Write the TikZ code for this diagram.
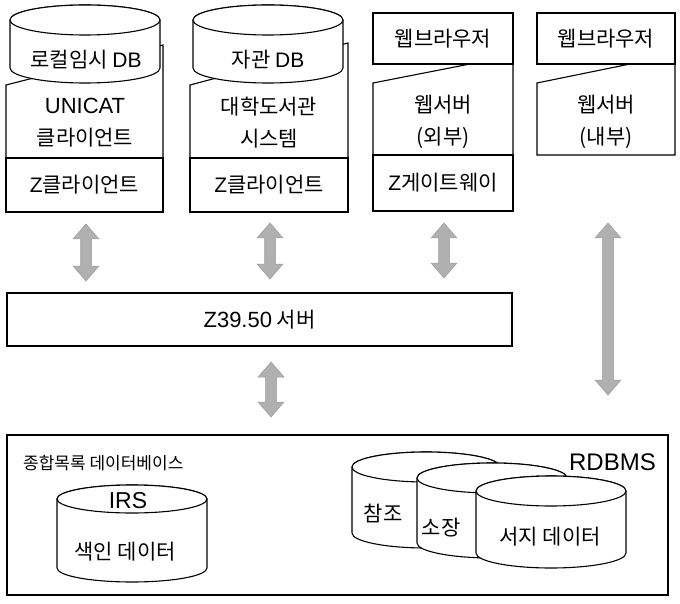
\documentclass[tikz,border=0pt]{standalone}
\usepackage{fontspec}
\setmainfont{Noto Sans CJK KR}
\newfontfamily\latinfont{Liberation Sans}
\usetikzlibrary{calc}
\newcommand\dblarrow[2]{%
  \fill[arrowfill] let \p1=(#1), \p2=(#2) in
  (\x1,\y1) -- (\x1+13pt,\y1-15pt) -- (\x1+5.5pt,\y1-15pt) -- (\x1+5.5pt,\y2+15pt)
  -- (\x1+13pt,\y2+15pt) -- (\x1,\y2) -- (\x1-13pt,\y2+15pt) -- (\x1-5.5pt,\y2+15pt)
  -- (\x1-5.5pt,\y1-15pt) -- (\x1-13pt,\y1-15pt) -- cycle;}
% cylinder: cx, top cy, bottom cy, rx, ry
\newcommand\cylshape[5]{%
  \filldraw[shp] (#1-#4,#2) -- (#1-#4,#3)
    arc[start angle=180,end angle=360,x radius=#4pt,y radius=#5pt]
    -- (#1+#4,#2)
    arc[start angle=0,end angle=180,x radius=#4pt,y radius=#5pt] -- cycle;
  \draw[shp] (#1,#2) ellipse[x radius=#4pt,y radius=#5pt];}
\newcommand\lt[1]{{\latinfont #1}}
\begin{document}
\begin{tikzpicture}[x=1pt,y=-1pt,
  shp/.style={draw=black, fill=white, line width=1.1pt, line join=miter},
  lbl/.style={font=\fontsize{21}{32}\selectfont, inner sep=0pt, align=center},
  smalllbl/.style={font=\fontsize{17}{20}\selectfont, inner sep=0pt},
  arrowfill/.style={fill=gray!62, draw=gray!78, line width=0.5pt}]
\useasboundingbox (0,0) rectangle (680,604);

% ---------- Box 1: UNICAT ----------
\filldraw[shp] (6,85) -- (163,45) -- (163,158) -- (6,158) -- cycle;
\cylshape{85}{20}{68}{75}{15}
\node[lbl] (ldb) at (86,60) {로컬임시 \lt{DB}};
\node[lbl] (uni) at (85,123) {\lt{\fontsize{22}{32}\selectfont UNICAT}\\클라이언트};
\node[shp, lbl, minimum width=157pt, minimum height=54pt] (zc1) at (84.5,185) {\lt{Z}클라이언트};

% ---------- Box 2: 대학도서관 ----------
\filldraw[shp] (190,85) -- (348,43) -- (348,158) -- (190,158) -- cycle;
\cylshape{268}{20}{68}{75}{15}
\node[lbl] (jdb) at (268,60) {자관 \lt{DB}};
\node[lbl] (lib) at (269,123) {대학도서관\\시스템};
\node[shp, lbl, minimum width=158pt, minimum height=54pt] (zc2) at (269,185) {\lt{Z}클라이언트};

% ---------- Box 3: 웹서버 (외부) ----------
\filldraw[shp] (373,83) -- (470,64) -- (513,64) -- (513,155) -- (373,155) -- cycle;
\node[shp, lbl, minimum width=140pt, minimum height=51pt] (wb1) at (443,38.5) {웹브라우저};
\node[lbl] (ws1) at (443,122) {웹서버\\(외부)};
\node[shp, lbl, minimum width=140pt, minimum height=56pt] (zg) at (443,183) {\lt{Z}게이트웨이};

% ---------- Box 4: 웹서버 (내부) ----------
\filldraw[shp] (537,83) -- (630,64) -- (675,64) -- (675,155) -- (537,155) -- cycle;
\node[shp, lbl, minimum width=138pt, minimum height=51pt] (wb2) at (606,38.5) {웹브라우저};
\node[lbl] (ws2) at (606,122) {웹서버\\(내부)};

% ---------- Server ----------
\node[shp, lbl, minimum width=505pt, minimum height=53pt] (srv) at (259.5,319.5) {\lt{\fontsize{22}{24}\selectfont Z39.50} 서버};

% ---------- Database ----------
\node[shp, minimum width=661pt, minimum height=160pt, inner sep=0pt] (db) at (337.5,515) {};
\node[smalllbl, anchor=west] (dblbl) at (23,463) {종합목록 데이터베이스};
\node[font=\latinfont\fontsize{24}{26}\selectfont, inner sep=0pt, anchor=east] (rdb) at (656,462) {RDBMS};

\cylshape{132}{499}{568}{75}{14}
\node[font=\latinfont\fontsize{23}{26}\selectfont, inner sep=0pt] (irs) at (128,501) {IRS};
\node[lbl] (idx) at (125,552) {색인 데이터};

\cylshape{426}{467}{533}{74}{15}
\cylshape{492}{478}{543}{75}{15}
\cylshape{551}{491}{553}{75}{15}
\node[lbl] (ref) at (383,513) {참조};
\node[lbl] (hold) at (441,528) {소장};
\node[lbl] (bib) at (550,537) {서지 데이터};

% ---------- Arrows ----------
\coordinate (a1t) at (86,224);  \coordinate (a1b) at (86,281);
\coordinate (a2t) at (270,223); \coordinate (a2b) at (270,279);
\coordinate (a3t) at (444,223); \coordinate (a3b) at (444,278);
\coordinate (a4t) at (608,223); \coordinate (a4b) at (608,395);
\coordinate (a5t) at (271,362); \coordinate (a5b) at (271,417);
\dblarrow{a1t}{a1b}
\dblarrow{a2t}{a2b}
\dblarrow{a3t}{a3b}
\dblarrow{a4t}{a4b}
\dblarrow{a5t}{a5b}
\end{tikzpicture}
\end{document}
